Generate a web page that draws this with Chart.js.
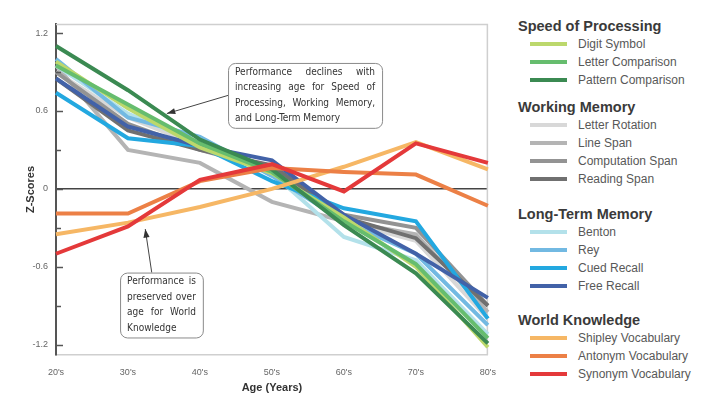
<!DOCTYPE html>
<html>
<head>
<meta charset="utf-8">
<script src="https://cdn.jsdelivr.net/npm/chart.js@4.4.0/dist/chart.umd.min.js"></script>
<style>
  html, body { margin: 0; padding: 0; background: #fff; }
  #wrap { position: relative; width: 720px; height: 397px; font-family: "Liberation Sans", Arial, sans-serif; }
  #chartBox { position: absolute; left: 0; top: 0; width: 500px; height: 397px; }
  #legend { position: absolute; left: 518px; top: 0; width: 200px; }
  .grp { position: absolute; left: 0; font-weight: bold; font-size: 14.5px; color: #3a3a3a; white-space: nowrap; }
  .item { position: absolute; left: 12px; font-size: 12px; color: #585858; white-space: nowrap; }
  .item span.sw { display: inline-block; width: 37px; height: 4px; vertical-align: middle; margin-right: 11px; position: relative; top: -1px; }
</style>
</head>
<body>
<div id="wrap">
  <div id="chartBox"><canvas id="ageChart" width="500" height="397"></canvas></div>
  <div id="legend"></div>
</div>
<script>
// Возрастные группы
const ages = ["20's", "30's", "40's", "50's", "60's", "70's", "80's"];

// Скорость обработки
const digitSymbol       = [0.98, 0.62, 0.32, 0.12, -0.22, -0.60, -1.22];
const letterComparison  = [0.95, 0.65, 0.35, 0.13, -0.25, -0.58, -1.15];
const patternComparison = [1.10, 0.76, 0.38, 0.15, -0.28, -0.65, -1.19];

// Рабочая память
const letterRotation    = [0.90, 0.55, 0.33, 0.15, -0.25, -0.40, -1.00];
const lineSpan          = [0.95, 0.30, 0.20, -0.10, -0.25, -0.35, -0.95];
const computationSpan   = [0.90, 0.50, 0.30, 0.15, -0.20, -0.30, -0.90];
const readingSpan       = [0.85, 0.45, 0.30, 0.18, -0.22, -0.38, -0.90];

// Долговременная память
const benton            = [0.95, 0.58, 0.35, 0.12, -0.37, -0.55, -1.12];
const rey               = [1.00, 0.55, 0.40, 0.10, -0.25, -0.50, -1.05];
const cuedRecall        = [0.74, 0.39, 0.33, 0.06, -0.15, -0.25, -1.00];
const freeRecall        = [0.85, 0.48, 0.33, 0.22, -0.20, -0.50, -0.84];

// Знания о мире
const shipleyVocab      = [-0.35, -0.26, -0.14, 0.00, 0.17, 0.36, 0.15];
const antonymVocab      = [-0.19, -0.19, 0.06, 0.16, 0.13, 0.11, -0.13];
const synonymVocab      = [-0.50, -0.29, 0.07, 0.19, -0.02, 0.35, 0.20];

// Деления оси Y
const yTicks = [-1.2, -0.9, -0.6, -0.3, 0, 0.3, 0.6, 0.9, 1.2];
const yLabeled = [-1.2, -0.6, 0, 0.6, 1.2];

// Группы легенды
const groups = [
    { name: 'Speed of Processing', series: [
        { label: 'Digit Symbol', data: digitSymbol, color: '#bcd86c' },
        { label: 'Letter Comparison', data: letterComparison, color: '#66bd6e' },
        { label: 'Pattern Comparison', data: patternComparison, color: '#3b8a52' }
    ]},
    { name: 'Working Memory', series: [
        { label: 'Letter Rotation', data: letterRotation, color: '#d8d8d8' },
        { label: 'Line Span', data: lineSpan, color: '#b4b4b4' },
        { label: 'Computation Span', data: computationSpan, color: '#939393' },
        { label: 'Reading Span', data: readingSpan, color: '#707070' }
    ]},
    { name: 'Long-Term Memory', series: [
        { label: 'Benton', data: benton, color: '#b3e1ea' },
        { label: 'Rey', data: rey, color: '#72b9e2' },
        { label: 'Cued Recall', data: cuedRecall, color: '#23a8e0' },
        { label: 'Free Recall', data: freeRecall, color: '#4262a8' }
    ]},
    { name: 'World Knowledge', series: [
        { label: 'Shipley Vocabulary', data: shipleyVocab, color: '#f6b765' },
        { label: 'Antonym Vocabulary', data: antonymVocab, color: '#ec8046' },
        { label: 'Synonym Vocabulary', data: synonymVocab, color: '#e4393a' }
    ]}
];

// Подписи-выноски (в координатах данных: x — индекс категории, y — z-score)
const notes = [
    { lines: ['Performance declines with', 'increasing age for Speed of', 'Processing, Working Memory,', 'and Long-Term Memory'],
      x0: 2.39, x1: 4.53, y0: 0.97, y1: 0.47, from: [2.39, 0.72], to: [1.54, 0.58] },
    { lines: ['Performance is', 'preserved over', 'age for World', 'Knowledge'],
      x0: 0.89, x1: 2.04, y0: -0.645, y1: -1.145, from: [1.33, -0.645], to: [1.24, -0.31] }
];

// Собираем наборы данных (World Knowledge сверху)
const datasets = [];
[3, 0, 2, 1].forEach(gi => {
    groups[gi].series.slice().reverse().forEach(s => {
        datasets.push({
            label: s.label,
            data: s.data,
            borderColor: s.color,
            backgroundColor: s.color,
            borderWidth: 4,
            pointRadius: 0,
            tension: 0,
            fill: false
        });
    });
});

// Легенда
const legendEl = document.getElementById('legend');
const groupTops = [18, 99, 206, 312];
groups.forEach((g, gi) => {
    const h = document.createElement('div');
    h.className = 'grp';
    h.style.top = groupTops[gi] + 'px';
    h.textContent = g.name;
    legendEl.appendChild(h);
    g.series.forEach((s, si) => {
        const it = document.createElement('div');
        it.className = 'item';
        it.style.top = (groupTops[gi] + 19 + si * 18) + 'px';
        it.innerHTML = '<span class="sw" style="background:' + s.color + '"></span>' + s.label;
        legendEl.appendChild(it);
    });
});

// Рамка, деления внутри оси и выноски
const decorPlugin = {
    id: 'decor',
    beforeDatasetsDraw(chart) {
        const { ctx, chartArea: a } = chart;
        ctx.save();
        ctx.strokeStyle = '#cfcfcf';
        ctx.lineWidth = 1.5;
        ctx.beginPath();
        ctx.moveTo(a.left, a.top + 0.5);
        ctx.lineTo(a.right - 0.5, a.top + 0.5);
        ctx.lineTo(a.right - 0.5, a.bottom);
        ctx.stroke();
        ctx.restore();
    },
    afterDraw(chart) {
        const { ctx, chartArea: a, scales: { x, y } } = chart;
        ctx.save();
        ctx.strokeStyle = '#555';
        ctx.lineWidth = 1.5;
        yTicks.forEach(v => {
            const py = Math.round(y.getPixelForValue(v)) + 0.5;
            const len = yLabeled.includes(v) ? 7 : 5;
            ctx.beginPath();
            ctx.moveTo(a.left, py);
            ctx.lineTo(a.left + len, py);
            ctx.stroke();
        });

        notes.forEach(n => {
            const bx0 = x.getPixelForValue(n.x0), bx1 = x.getPixelForValue(n.x1);
            const by0 = y.getPixelForValue(n.y0), by1 = y.getPixelForValue(n.y1);
            // стрелка
            const fx = x.getPixelForValue(n.from[0]), fy = y.getPixelForValue(n.from[1]);
            const tx = x.getPixelForValue(n.to[0]), ty = y.getPixelForValue(n.to[1]);
            ctx.strokeStyle = '#444';
            ctx.fillStyle = '#333';
            ctx.lineWidth = 1;
            ctx.beginPath();
            ctx.moveTo(fx, fy);
            ctx.lineTo(tx, ty);
            ctx.stroke();
            const ang = Math.atan2(ty - fy, tx - fx);
            ctx.beginPath();
            ctx.moveTo(tx, ty);
            ctx.lineTo(tx - 9 * Math.cos(ang - 0.35), ty - 9 * Math.sin(ang - 0.35));
            ctx.lineTo(tx - 9 * Math.cos(ang + 0.35), ty - 9 * Math.sin(ang + 0.35));
            ctx.closePath();
            ctx.fill();
            // рамка
            ctx.fillStyle = '#fff';
            ctx.strokeStyle = '#8a8a8a';
            ctx.lineWidth = 1;
            ctx.beginPath();
            ctx.roundRect(bx0 + 0.5, by0 + 0.5, bx1 - bx0, by1 - by0, 7);
            ctx.fill();
            ctx.stroke();
            // текст по ширине
            ctx.fillStyle = '#333';
            ctx.font = '10px "Liberation Sans Narrow", "DejaVu Sans Condensed", Arial, sans-serif';
            ctx.textBaseline = 'middle';
            const pad = 7;
            const w = bx1 - bx0 - pad * 2;
            const lh = (by1 - by0) / (n.lines.length + 0.2);
            n.lines.forEach((ln, i) => {
                const ly = by0 + lh * (i + 0.6);
                const words = ln.split(' ');
                const last = i === n.lines.length - 1;
                if (last || words.length < 2) {
                    ctx.fillText(ln, bx0 + pad, ly);
                } else {
                    const total = words.reduce((s, wd) => s + ctx.measureText(wd).width, 0);
                    const gap = (w - total) / (words.length - 1);
                    let cx = bx0 + pad;
                    words.forEach(wd => {
                        ctx.fillText(wd, cx, ly);
                        cx += ctx.measureText(wd).width + gap;
                    });
                }
            });
        });
        ctx.restore();
    }
};

const ctx = document.getElementById('ageChart').getContext('2d');
new Chart(ctx, {
    type: 'line',
    data: { labels: ages, datasets: datasets },
    options: {
        responsive: false,
        animation: false,
        layout: { padding: { left: 0, right: 12, top: 24, bottom: 0 } },
        plugins: { legend: { display: false }, tooltip: { enabled: false } },
        scales: {
            x: {
                offset: false,
                afterFit: s => { s.height = 42; },
                grid: { display: false },
                border: { color: '#cfcfcf', width: 1.5 },
                ticks: { color: '#666', font: { size: 9 }, padding: 4, maxRotation: 0 },
                title: { display: true, text: 'Age (Years)', color: '#333', font: { size: 11, weight: 'bold' }, padding: { top: 0, bottom: 2 } }
            },
            y: {
                min: -1.28,
                max: 1.27,
                afterFit: s => { s.width = 56; },
                afterBuildTicks: s => { s.ticks = yTicks.map(v => ({ value: v })); },
                grid: {
                    drawTicks: false,
                    lineWidth: 1.5,
                    color: c => (c.tick && c.tick.value === 0 ? '#444' : 'rgba(0,0,0,0)')
                },
                border: { color: '#555', width: 2 },
                ticks: {
                    color: '#666',
                    font: { size: 9 },
                    padding: 8,
                    callback: v => (yLabeled.includes(v) ? (v === 0 ? '0' : v.toFixed(1)) : '')
                },
                title: { display: true, text: 'Z-Scores', color: '#333', font: { size: 11, weight: 'bold' }, padding: { top: 24, bottom: 0 } }
            }
        }
    },
    plugins: [decorPlugin]
});
</script>
</body>
</html>
